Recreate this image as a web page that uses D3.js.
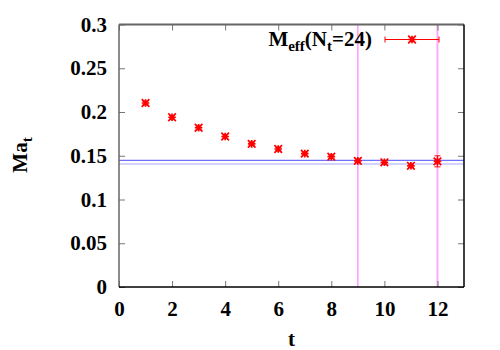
<!DOCTYPE html>
<html>
<head>
<meta charset="utf-8">
<script src="https://cdn.jsdelivr.net/npm/d3@7"></script>
<style>
  body { margin: 0; background: #fff; }
</style>
</head>
<body>
<div id="chart"></div>
<script>
// effective mass per time slice
const tValues = [1, 2, 3, 4, 5, 6, 7, 8, 9, 10, 11, 12];
const massValues = [0.2103, 0.194, 0.182, 0.172, 0.1636, 0.1577, 0.1524, 0.1489, 0.1442, 0.1425, 0.1385, 0.1436];
const massErrors = [0.002, 0.002, 0.002, 0.002, 0.002, 0.002, 0.002, 0.002, 0.002, 0.002, 0.002, 0.0063];
// fit band and fit range
const fitBand = [0.1448, 0.1406];
const fitRange = [9, 12];
const xTicks = [0, 2, 4, 6, 8, 10, 12];
const yTicks = [0, 0.05, 0.1, 0.15, 0.2, 0.25, 0.3];

const width = 500, height = 350;
const margin = { top: 24.5, right: 36, bottom: 63, left: 119 };
const FONT = "'Liberation Serif', 'Times New Roman', Times, serif";

const svg = d3.select('#chart')
  .append('svg')
  .attr('width', width)
  .attr('height', height)
  .attr('font-family', FONT)
  .attr('font-weight', 'bold');

const x = d3.scaleLinear()
  .domain([0, 13])
  .range([margin.left, width - margin.right]);

const y = d3.scaleLinear()
  .domain([0, 0.3])
  .range([height - margin.bottom, margin.top]);

const data = tValues.map((t, i) => ({ t, m: massValues[i], e: massErrors[i] }));

// fit range lines
svg.append("line")
  .attr("x1", x(fitRange[0])).attr("x2", x(fitRange[0]))
  .attr("y1", y(0)).attr("y2", y(0.3))
  .attr("stroke", "#ff80ff").attr("stroke-width", 1.2);
svg.append("line")
  .attr("x1", x(fitRange[1])).attr("x2", x(fitRange[1]))
  .attr("y1", y(0)).attr("y2", y(0.3))
  .attr("stroke", "#ffaaff").attr("stroke-width", 2);

// fit band lines
svg.append("line")
  .attr("x1", x(0)).attr("x2", x(13))
  .attr("y1", y(fitBand[0])).attr("y2", y(fitBand[0]))
  .attr("stroke", "#7070ff").attr("stroke-width", 1.2);
svg.append("line")
  .attr("x1", x(0)).attr("x2", x(13))
  .attr("y1", y(fitBand[1])).attr("y2", y(fitBand[1]))
  .attr("stroke", "#a8a8ff").attr("stroke-width", 1.2);

// axes (inner ticks on all sides)
const tickColor = "#777";
const bottomAxis = svg.append("g")
  .attr("transform", `translate(0,${y(0)})`)
  .call(d3.axisBottom(x).tickValues(xTicks).tickSize(-6).tickFormat(d3.format("d")).tickPadding(14));
const topAxis = svg.append("g")
  .attr("transform", `translate(0,${y(0.3)})`)
  .call(d3.axisTop(x).tickValues(xTicks).tickSize(-6).tickFormat(""));
const leftAxis = svg.append("g")
  .attr("transform", `translate(${x(0)},0)`)
  .call(d3.axisLeft(y).tickValues(yTicks).tickSize(-6).tickFormat(d => d3.format("")(+d.toFixed(2))).tickPadding(12));
const rightAxis = svg.append("g")
  .attr("transform", `translate(${x(13)},0)`)
  .call(d3.axisRight(y).tickValues(yTicks).tickSize(-6).tickFormat(""));

[bottomAxis, topAxis, leftAxis, rightAxis].forEach(g => {
  g.attr("font-family", FONT).attr("font-size", 21);
  g.selectAll(".tick line").attr("stroke", tickColor);
  g.select(".domain").remove();
  g.selectAll("text").attr("fill", "#000");
});

// border
svg.append("line").attr("x1", x(0)).attr("x2", x(13)).attr("y1", y(0.3)).attr("y2", y(0.3))
  .attr("stroke", "#666").attr("stroke-width", 2);
svg.append("line").attr("x1", x(0)).attr("x2", x(0)).attr("y1", y(0)).attr("y2", y(0.3))
  .attr("stroke", "#666").attr("stroke-width", 1.5);
svg.append("line").attr("x1", x(0)).attr("x2", x(13)).attr("y1", y(0)).attr("y2", y(0))
  .attr("stroke", "#000").attr("stroke-width", 1.5);
svg.append("line").attr("x1", x(13)).attr("x2", x(13)).attr("y1", y(0)).attr("y2", y(0.3))
  .attr("stroke", "#000").attr("stroke-width", 1.5);

// star marker
function star(g, cx, cy) {
  const s = 3.8;
  g.append("path")
    .attr("d", `M${cx - s},${cy}H${cx + s}M${cx},${cy - s}V${cy + s}M${cx - s},${cy - s}L${cx + s},${cy + s}M${cx - s},${cy + s}L${cx + s},${cy - s}`)
    .attr("stroke", "#ff0000")
    .attr("stroke-width", 1.7)
    .attr("fill", "none");
}

const points = svg.append("g");
data.forEach(d => {
  const cx = x(d.t);
  // error bar
  points.append("line")
    .attr("x1", cx).attr("x2", cx)
    .attr("y1", y(d.m - d.e)).attr("y2", y(d.m + d.e))
    .attr("stroke", "#ff0000").attr("stroke-width", 1);
  [d.m - d.e, d.m + d.e].forEach(v => {
    points.append("line")
      .attr("x1", cx - 3).attr("x2", cx + 3)
      .attr("y1", y(v)).attr("y2", y(v))
      .attr("stroke", "#ff0000").attr("stroke-width", 1);
  });
  star(points, cx, y(d.m));
});

// legend
const legend = svg.append("g");
const lt = legend.append("text")
  .attr("x", 372)
  .attr("y", 46)
  .attr("text-anchor", "end")
  .attr("font-size", 21)
  .attr("fill", "#000");
lt.append("tspan").text("M");
lt.append("tspan").attr("font-size", 15).attr("dy", 5).text("eff");
lt.append("tspan").attr("dy", -5).text("(N");
lt.append("tspan").attr("font-size", 15).attr("dy", 5).text("t");
lt.append("tspan").attr("dy", -5).text("=24)");

const ly = 39.5;
legend.append("line")
  .attr("x1", 385).attr("x2", 439).attr("y1", ly).attr("y2", ly)
  .attr("stroke", "#ff0000").attr("stroke-width", 1);
[385, 439].forEach(lx => {
  legend.append("line")
    .attr("x1", lx).attr("x2", lx).attr("y1", ly - 3).attr("y2", ly + 3)
    .attr("stroke", "#ff0000").attr("stroke-width", 1);
});
star(legend, 412, ly);

// axis titles
svg.append("text")
  .attr("x", x(6.5))
  .attr("y", 346)
  .attr("text-anchor", "middle")
  .attr("font-size", 21)
  .text("t");

const yl = svg.append("text")
  .attr("transform", `translate(27,155) rotate(-90)`)
  .attr("text-anchor", "middle")
  .attr("font-size", 21);
yl.append("tspan").text("Ma");
yl.append("tspan").attr("font-size", 15).attr("dy", 5).text("t");
</script>
</body>
</html>
